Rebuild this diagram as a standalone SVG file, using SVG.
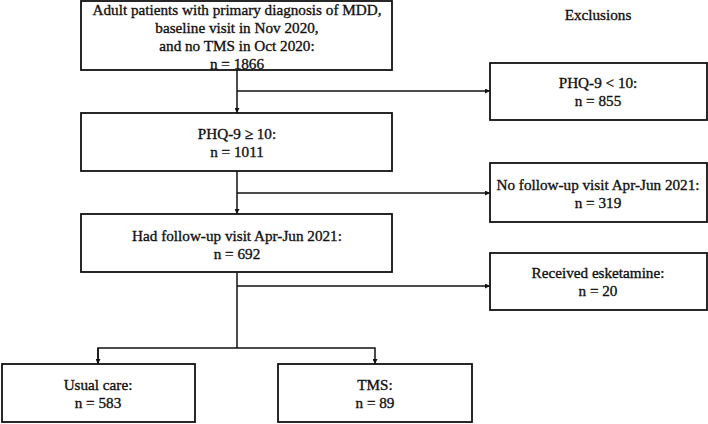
<svg xmlns="http://www.w3.org/2000/svg" width="708" height="424" viewBox="0 0 708 424">
<style>
.box{fill:#fff;stroke:#111;stroke-width:1.8}
.t{font-family:"Liberation Serif","Times New Roman",serif;font-size:15.2px;fill:#111;stroke:#111;stroke-width:0.35;text-anchor:middle}
.c{fill:none;stroke:#111;stroke-width:1.5}
</style>
<defs>
<marker id="ah" viewBox="0 0 10 10" refX="10" refY="5" markerWidth="5" markerHeight="5" orient="auto" markerUnits="userSpaceOnUse">
<path d="M0,0 L10,5 L0,10 z" fill="#111"/>
</marker>
</defs>
<rect width="708" height="424" fill="#fff"/>
<g id="connectors">
<path class="c" d="M237,70 V113" marker-end="url(#ah)"/>
<path class="c" d="M237,91 H490" marker-end="url(#ah)"/>
<path class="c" d="M237,171 V214" marker-end="url(#ah)"/>
<path class="c" d="M237,193 H490" marker-end="url(#ah)"/>
<path class="c" d="M237,272 V348"/>
<path class="c" d="M237,286 H490" marker-end="url(#ah)"/>
<path class="c" d="M98,364 V348 H375 V364" marker-end="url(#ah)"/>
<path class="c" d="M98,348 V364" marker-end="url(#ah)"/>
</g>
<g id="start">
<rect class="box" x="81" y="1" width="311" height="69"/>
<text class="t" x="237" y="15">Adult patients with primary diagnosis of MDD,</text>
<text class="t" x="237" y="33">baseline visit in Nov 2020,</text>
<text class="t" x="237" y="51">and no TMS in Oct 2020:</text>
<text class="t" x="237" y="69">n = 1866</text>
</g>
<g id="exclusions-label">
<text class="t" x="598" y="20">Exclusions</text>
</g>
<g id="excl1">
<rect class="box" x="490" y="63" width="217" height="57"/>
<text class="t" x="598" y="88">PHQ-9 &lt; 10:</text>
<text class="t" x="598" y="106">n = 855</text>
</g>
<g id="phq">
<rect class="box" x="81" y="113" width="311" height="58"/>
<text class="t" x="237" y="139">PHQ-9 ≥ 10:</text>
<text class="t" x="237" y="157">n = 1011</text>
</g>
<g id="excl2">
<rect class="box" x="490" y="163" width="217" height="59"/>
<text class="t" x="598" y="190">No follow-up visit Apr-Jun 2021:</text>
<text class="t" x="598" y="208">n = 319</text>
</g>
<g id="followup">
<rect class="box" x="81" y="214" width="311" height="58"/>
<text class="t" x="237" y="241">Had follow-up visit Apr-Jun 2021:</text>
<text class="t" x="237" y="259">n = 692</text>
</g>
<g id="excl3">
<rect class="box" x="490" y="253" width="217" height="57"/>
<text class="t" x="598" y="278">Received esketamine:</text>
<text class="t" x="598" y="296">n = 20</text>
</g>
<g id="usual">
<rect class="box" x="2" y="364" width="193" height="58"/>
<text class="t" x="98" y="390">Usual care:</text>
<text class="t" x="98" y="408">n = 583</text>
</g>
<g id="tms">
<rect class="box" x="278" y="364" width="194" height="58"/>
<text class="t" x="375" y="390">TMS:</text>
<text class="t" x="375" y="408">n = 89</text>
</g>
</svg>
